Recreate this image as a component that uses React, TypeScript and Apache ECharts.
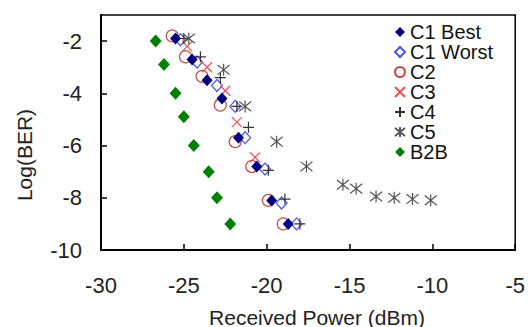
import React, { useEffect, useRef } from "react";
import * as echarts from "echarts";

const seriesNames = ["C1 Best", "C1 Worst", "C2", "C3", "C4", "C5", "B2B"];

const c1BestX = [-25.5, -24.5, -23.6, -22.7, -21.7, -20.6, -19.7, -18.7];
const c1BestY = [-1.9, -2.7, -3.5, -4.2, -5.7, -6.8, -8.1, -9.0];

const c1WorstX = [-25.2, -24.2, -23.0, -21.9, -21.3, -20.1, -19.1, -18.2];
const c1WorstY = [-1.95, -2.8, -3.7, -4.5, -5.7, -6.9, -8.2, -9.0];

const c2X = [-25.7, -24.9, -23.9, -22.8, -21.9, -20.9, -19.9, -19.0];
const c2Y = [-1.8, -2.6, -3.35, -4.45, -5.85, -6.8, -8.1, -9.0];

const c3X = [-24.8, -23.6, -22.5, -21.8, -20.7];
const c3Y = [-2.2, -3.0, -3.9, -5.1, -6.45];

const c4X = [-25.0, -24.0, -22.8, -21.8, -21.1, -19.9, -18.9, -18.0];
const c4Y = [-1.9, -2.6, -3.4, -4.5, -5.3, -6.95, -8.05, -9.0];

const c5X = [-24.7, -22.6, -21.3, -19.4, -17.6, -15.4, -14.6, -13.4, -12.3, -11.2, -10.1];
const c5Y = [-1.9, -3.1, -4.5, -5.85, -6.8, -7.5, -7.65, -7.95, -8.0, -8.05, -8.1];

const b2bX = [-26.7, -26.2, -25.5, -25.0, -24.4, -23.5, -23.0, -22.2];
const b2bY = [-2.0, -2.9, -4.0, -4.9, -6.0, -7.0, -8.0, -9.0];

const xAxisTitle = "Received Power (dBm)";
const yAxisTitle = "Log(BER)";

const pairs = (xs: number[], ys: number[]) => xs.map((x, i) => [x, ys[i]]);

const FONT = "'Liberation Sans', Arial, sans-serif";

export default function App() {
  const ref = useRef<HTMLDivElement>(null);
  useEffect(() => {
    if (!ref.current) return;
    const chart = echarts.init(ref.current, undefined, { renderer: "svg" });
    const xPath = "path://M0,0L10,10M10,0L0,10";
    const plusPath = "path://M5,0L5,10M0,5L10,5";
    const starPath = "path://M5,0L5,10M0,1L10,9M10,1L0,9";
    const base = { type: "scatter" as const };
    chart.setOption({
      animation: false,
      backgroundColor: "#fff",
      textStyle: { fontFamily: FONT },
      grid: {
        left: 101,
        right: 12,
        top: 15,
        bottom: 77,
        show: true,
        borderColor: "#000",
        borderWidth: 1.5,
      },
      legend: {
        orient: "vertical",
        left: 394,
        top: 22,
        padding: 0,
        itemWidth: 10,
        itemHeight: 10,
        itemGap: 0,
        selectedMode: false,
        textStyle: { fontSize: 20, lineHeight: 19, color: "#111", fontFamily: FONT },
        data: seriesNames,
      },
      xAxis: {
        type: "value",
        min: -30,
        max: -5,
        interval: 5,
        splitLine: { show: false },
        axisLine: { lineStyle: { color: "#000", width: 2 } },
        axisTick: { inside: true, length: 6, lineStyle: { color: "#000", width: 1.5 } },
        axisLabel: { fontSize: 22, color: "#222", margin: 24, fontFamily: FONT },
      },
      yAxis: {
        type: "value",
        min: -10,
        max: -1,
        interval: 2,
        splitLine: { show: false },
        axisLine: { lineStyle: { color: "#000", width: 2 } },
        axisTick: { inside: true, length: 6, lineStyle: { color: "#000", width: 1.5 } },
        axisLabel: {
          fontSize: 22,
          color: "#222",
          margin: 19,
          fontFamily: FONT,
          showMaxLabel: false,
        },
      },
      graphic: [
        {
          type: "text",
          x: 317,
          y: 317,
          style: {
            text: xAxisTitle,
            fontSize: 21,
            fontFamily: FONT,
            fill: "#222",
            align: "center",
            verticalAlign: "middle",
          },
        },
        {
          type: "text",
          x: 24,
          y: 155,
          rotation: Math.PI / 2,
          style: {
            text: yAxisTitle,
            fontSize: 21,
            fontFamily: FONT,
            fill: "#222",
            align: "center",
            verticalAlign: "middle",
          },
        },
      ],
      series: [
        {
          ...base,
          name: "C1 Best",
          z: 10,
          symbol: "diamond",
          symbolSize: [11, 12],
          itemStyle: { color: "#000080", opacity: 1 },
          data: pairs(c1BestX, c1BestY),
        },
        {
          ...base,
          name: "C1 Worst",
          z: 5,
          symbol: "diamond",
          symbolSize: [11, 12],
          itemStyle: { color: "rgba(0,0,0,0)", borderColor: "#4a55e0", borderWidth: 1.2, opacity: 1 },
          data: pairs(c1WorstX, c1WorstY),
        },
        {
          ...base,
          name: "C2",
          z: 4,
          symbol: "circle",
          symbolSize: 12,
          itemStyle: { color: "rgba(0,0,0,0)", borderColor: "#c0504d", borderWidth: 1.2, opacity: 1 },
          data: pairs(c2X, c2Y),
        },
        {
          ...base,
          name: "C3",
          z: 6,
          symbol: xPath,
          symbolSize: 10,
          itemStyle: { color: "rgba(0,0,0,0)", borderColor: "#f25050", borderWidth: 1.2, opacity: 1 },
          data: pairs(c3X, c3Y),
        },
        {
          ...base,
          name: "C4",
          z: 6,
          symbol: plusPath,
          symbolSize: 11,
          itemStyle: { color: "rgba(0,0,0,0)", borderColor: "#333", borderWidth: 1.2, opacity: 1 },
          data: pairs(c4X, c4Y),
        },
        {
          ...base,
          name: "C5",
          z: 6,
          symbol: starPath,
          symbolSize: 12,
          itemStyle: { color: "rgba(0,0,0,0)", borderColor: "#555", borderWidth: 1.2, opacity: 1 },
          data: pairs(c5X, c5Y),
        },
        {
          ...base,
          name: "B2B",
          z: 6,
          symbol: "diamond",
          symbolSize: [12, 13],
          itemStyle: { color: "#008000", opacity: 1 },
          data: pairs(b2bX, b2bY),
        },
      ],
    });
    return () => chart.dispose();
  }, []);
  return (
    <div
      ref={ref}
      style={{ position: "fixed", left: 0, top: 0, width: 528, height: 327, background: "#fff" }}
    />
  );
}
